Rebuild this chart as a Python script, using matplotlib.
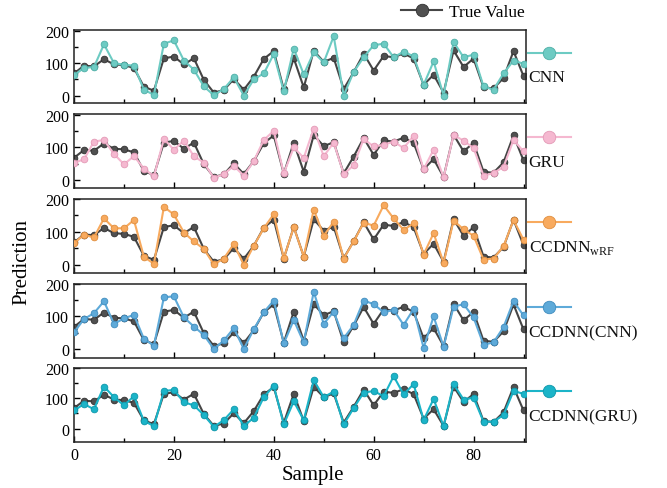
import matplotlib
matplotlib.use("Agg")
import matplotlib.pyplot as plt
from matplotlib.lines import Line2D
from matplotlib.ticker import MultipleLocator
import numpy as np

plt.rcParams['font.family'] = ['Liberation Serif', 'DejaVu Serif']
plt.rcParams['mathtext.fontset'] = 'custom'
plt.rcParams['mathtext.rm'] = 'Liberation Serif'

sample = list(range(0, 91, 2))

true_value = [68, 92, 90, 112, 96, 94, 85, 27, 15, 115, 120, 96, 115, 48, 9, 17, 51, 18, 58, 113,
              137, 19, 115, 25, 138, 104, 116, 20, 72, 129, 77, 122, 118, 130, 114, 33, 64, 9, 139, 88,
              114, 25, 22, 54, 137, 60]

cnn = [63, 85, 88, 158, 100, 95, 92, 18, 2, 160, 170, 108, 80, 28, 1, 20, 56, 0, 50, 68,
       128, 13, 145, 65, 133, 102, 183, 0, 73, 118, 155, 160, 118, 135, 121, 33, 105, 0, 165, 118,
       126, 28, 18, 68, 108, 98]

gru = [53, 63, 118, 123, 80, 48, 73, 35, 11, 126, 93, 121, 73, 53, 6, 18, 43, 13, 58, 123,
       151, 20, 100, 68, 158, 73, 115, 18, 45, 126, 103, 108, 118, 98, 136, 33, 93, 8, 138, 121,
       98, 13, 21, 40, 123, 88]

ccdnn_wrf = [66, 91, 83, 141, 111, 111, 136, 24, 3, 176, 153, 98, 71, 48, 1, 19, 63, 0, 58, 111,
             154, 20, 114, 25, 168, 88, 131, 19, 71, 128, 119, 181, 141, 106, 126, 31, 96, 6, 134, 108,
             88, 16, 19, 56, 136, 76]

ccdnn_cnn = [51, 92, 110, 147, 77, 94, 105, 31, 10, 159, 162, 97, 69, 43, 0, 26, 64, 0, 61, 113,
             149, 17, 89, 20, 176, 77, 115, 33, 74, 149, 138, 113, 120, 74, 123, 3, 100, 7, 130, 138,
             97, 13, 20, 67, 147, 103]

ccdnn_gru = [60, 81, 64, 139, 104, 77, 107, 25, 9, 124, 128, 87, 77, 45, 6, 28, 64, 9, 36, 104,
             141, 14, 90, 28, 160, 104, 122, 14, 68, 119, 124, 107, 173, 113, 147, 28, 98, 8, 147, 96,
             102, 23, 23, 45, 124, 115]

series = [cnn, gru, ccdnn_wrf, ccdnn_cnn, ccdnn_gru]
labels = ['CNN', 'GRU', r'CCDNN$_{\mathrm{wRF}}$', 'CCDNN(CNN)', 'CCDNN(GRU)']
colors = ['#6DCBC3', '#F5B8D0', '#F8AA5E', '#5EAAD9', '#1BB4C8']
edge_colors = ['#4FAFA7', '#E39AB6', '#E08E3E', '#3F8CBE', '#0E97AA']
ylims = [(-23, 203), (-25, 203), (-25, 200), (-28, 200), (-44, 200)]

true_color = '#454545'

fig = plt.figure(figsize=(6.67, 4.89), dpi=100)
W, H = 667, 489
left_px, right_px = 74, 526
panels_px = [(30.7, 104), (115, 189), (200, 274), (285, 359), (369, 443)]

axes = []
for i, (top, bot) in enumerate(panels_px):
    ax = fig.add_axes([left_px / W, 1 - bot / H, (right_px - left_px) / W, (bot - top) / H])
    axes.append(ax)
    ax.plot(sample, true_value, color=true_color, lw=1.5, marker='o', ms=4.8,
            mfc='#505050', mec='#303030', mew=0.6, zorder=2)
    ax.plot(sample, series[i], color=colors[i], lw=1.5, marker='o', ms=4.8,
            mfc=colors[i], mec=edge_colors[i], mew=0.6, zorder=3)
    ax.set_xlim(0, 90.5)
    ax.set_ylim(*ylims[i])
    ax.set_yticks([0, 100, 200])
    ax.yaxis.set_minor_locator(MultipleLocator(50))
    ax.xaxis.set_major_locator(MultipleLocator(20))
    ax.xaxis.set_minor_locator(MultipleLocator(10))
    ax.tick_params(which='both', direction='in', top=False, right=False, labelsize=11.5,
                   width=1.0)
    ax.tick_params(which='major', length=4)
    ax.tick_params(which='minor', length=3)
    for s in ax.spines.values():
        s.set_linewidth(1.1)
        s.set_color('#222222')
    if i < 4:
        ax.tick_params(labelbottom=False)
    # legend handle to the right of the panel
    h = Line2D([0], [0], color=colors[i], lw=1.5, marker='o', ms=9,
               mfc=colors[i], mec=edge_colors[i], mew=0.6)
    ax.legend(handles=[h], labels=[''], loc='center left',
              bbox_to_anchor=(1.004, 0.67), frameon=False, handlelength=3.1,
              handletextpad=0, borderaxespad=0, borderpad=0)
    ax.text(1.006, 0.35, labels[i], transform=ax.transAxes, ha='left', va='center',
            fontsize=12.5, color='#111111')

# top legend for True Value
ht = Line2D([0], [0], color=true_color, lw=1.5, marker='o', ms=9,
            mfc='#505050', mec='#303030', mew=0.6)
fig.legend(handles=[ht], labels=['True Value'], loc='center',
           bbox_to_anchor=(463 / W, 1 - 13 / H), frameon=False, fontsize=12.5,
           handlelength=2.4, handletextpad=0.4, borderpad=0)

fig.text(313 / W, 1 - 476 / H, 'Sample', ha='center', va='center', fontsize=15)
fig.text(22 / W, 1 - 262 / H, 'Prediction', ha='center', va='center', fontsize=15,
         rotation=90)

fig.savefig('out.png', dpi=100)
